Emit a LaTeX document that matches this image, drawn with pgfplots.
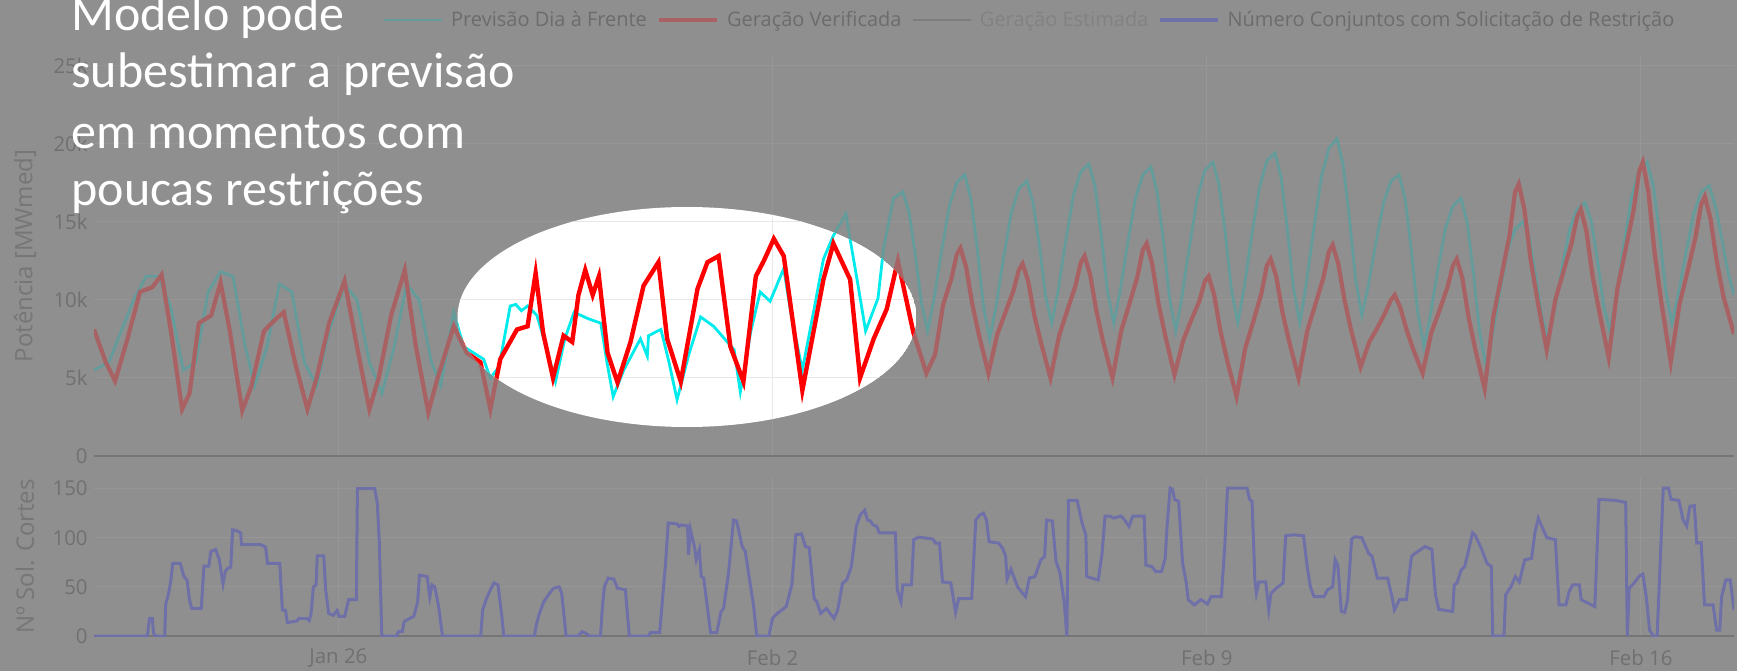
\documentclass[border=0pt]{standalone}
\usepackage{fontspec}
\setmainfont{Open Sans}
\newfontfamily\calib{Carlito}
\usepackage{pgfplots}
\pgfplotsset{compat=1.18}
\usepackage{pgfplotstable}

\definecolor{bg}{RGB}{143,143,143}
\definecolor{dteal}{RGB}{100,156,156}
\definecolor{dred}{RGB}{168,98,100}
\definecolor{dpurp}{RGB}{112,112,168}
\definecolor{tickc}{RGB}{112,112,112}
\definecolor{titc}{RGB}{118,118,118}
\definecolor{gridd}{RGB}{150,150,150}
\definecolor{zerod}{RGB}{118,118,118}
\definecolor{bcyan}{RGB}{0,235,235}
\definecolor{bred}{RGB}{255,0,0}
\definecolor{gridb}{RGB}{232,232,232}
\definecolor{legc}{RGB}{108,108,108}
\definecolor{legc2}{RGB}{130,130,130}
\definecolor{estc}{RGB}{125,125,125}

\pgfplotstableread{
d v
-3.94 5.5
-3.7 6.0
-3.5 8.0
-3.3 10.0
-3.1 11.5
-2.9 11.5
-2.7 9.5
-2.5 5.5
-2.3 6.0
-2.1 10.5
-1.9 11.8
-1.7 11.5
-1.5 7.0
-1.35 4.5
-1.15 7.0
-0.95 11.0
-0.75 10.5
-0.55 6.0
-0.35 4.5
-0.15 8.0
0.1 11.0
0.3 10.0
0.5 6.0
0.7 4.0
0.9 7.0
1.1 11.0
1.3 10.0
1.5 6.0
1.65 4.5
1.86 9.2
2.02 7.0
2.18 6.6
2.34 6.2
2.45 5.0
2.59 5.7
2.77 9.6
2.86 9.7
2.95 9.3
3.05 9.6
3.2 9.0
3.35 7.0
3.5 4.76
3.65 7.5
3.8 9.2
4.02 8.8
4.23 8.5
4.33 6.0
4.43 3.8
4.6 5.5
4.87 7.5
4.98 6.4
5.0 7.7
5.2 8.1
5.33 6.0
5.46 3.6
5.65 6.5
5.84 8.9
6.05 8.3
6.38 6.8
6.48 4.1
6.65 8.0
6.8 10.5
6.96 9.9
7.18 12.0
7.3 9.0
7.48 5.5
7.65 9.0
7.82 12.6
7.98 14.1
8.18 15.5
8.37 11.1
8.5 8.0
8.7 10.1
8.79 13.3
8.95 16.5
9.1 16.9
9.2 15.6
9.3 12.9
9.4 9.8
9.5 8.0
9.6 10.0
9.72 13.0
9.85 16.0
9.97 17.5
10.1 18.0
10.2 16.4
10.3 13.3
10.4 9.6
10.5 7.5
10.6 9.5
10.72 12.6
10.85 15.6
10.97 17.1
11.1 17.6
11.2 16.2
11.3 13.5
11.4 10.3
11.5 8.5
11.6 10.5
11.72 13.6
11.85 16.7
11.97 18.2
12.1 18.7
12.2 17.2
12.3 14.1
12.4 10.5
12.5 8.5
12.6 10.5
12.72 13.5
12.85 16.5
12.97 18.0
13.1 18.5
13.2 16.9
13.3 13.8
13.4 10.1
13.5 8.0
13.6 10.2
13.72 13.4
13.85 16.6
13.97 18.3
14.1 18.8
14.2 17.3
14.3 14.2
14.4 10.6
14.5 8.5
14.6 10.7
14.72 14.0
14.85 17.2
14.97 18.9
15.1 19.4
15.2 17.8
15.3 14.5
15.4 10.7
15.5 8.5
15.6 10.9
15.72 14.4
15.85 17.9
15.97 19.7
16.1 20.3
16.2 18.6
16.3 15.2
16.4 11.3
16.5 9.0
16.6 10.8
16.72 13.5
16.85 16.2
16.97 17.6
17.1 18.0
17.2 16.4
17.3 13.1
17.4 9.2
17.5 7.0
17.6 8.9
17.72 11.8
17.85 14.6
17.97 16.0
18.1 16.5
18.2 14.9
18.3 11.7
18.4 7.9
18.5 5.8
18.6 7.6
18.72 10.4
18.85 13.2
18.97 14.5
19.1 15.0
19.2 13.9
19.3 11.6
19.4 9.0
19.5 7.5
19.6 9.2
19.72 11.9
19.85 14.5
19.97 15.8
20.1 16.2
20.2 15.0
20.3 12.5
20.4 9.6
20.5 8.0
20.6 10.2
20.72 13.4
20.85 16.6
20.97 18.3
21.1 18.8
21.2 17.3
21.3 14.2
21.4 10.6
21.5 8.5
21.6 10.3
21.72 12.9
21.85 15.5
21.97 16.9
22.1 17.3
22.2 16.0
22.3 14.0
22.4 11.8
22.5 10.3
}\prev

\pgfplotstableread{
d v
-3.94 8.1
-3.75 6.0
-3.6 4.8
-3.4 7.5
-3.2 10.5
-3.0 10.8
-2.85 11.6
-2.7 8.0
-2.52 3.0
-2.4 4.0
-2.25 8.5
-2.05 9.0
-1.9 11.1
-1.75 8.0
-1.55 2.9
-1.4 4.5
-1.2 8.0
-1.0 8.8
-0.88 9.2
-0.7 6.0
-0.5 3.0
-0.35 5.0
-0.15 8.5
0.1 11.2
0.3 7.0
0.5 3.0
0.65 5.0
0.85 9.0
1.07 11.9
1.25 7.0
1.45 2.8
1.6 5.0
1.86 8.3
2.07 6.6
2.29 6.0
2.45 3.0
2.61 6.2
2.88 8.1
3.05 8.3
3.18 11.7
3.3 7.9
3.46 5.0
3.63 7.7
3.77 7.3
3.87 10.3
3.98 11.9
4.1 10.3
4.2 11.5
4.34 6.6
4.5 4.7
4.71 7.3
4.92 10.9
5.16 12.4
5.3 7.5
5.52 4.76
5.79 10.7
5.95 12.4
6.13 12.8
6.32 7.0
6.53 4.76
6.73 11.5
6.86 12.5
7.02 13.9
7.18 12.8
7.48 4.2
7.82 11.3
7.98 13.6
8.25 11.3
8.41 5.0
8.63 7.5
8.84 9.4
9.02 12.5
9.27 7.9
9.48 5.3
9.62 6.5
9.75 9.7
9.88 11.3
9.97 12.9
10.03 13.3
10.12 12.1
10.22 9.7
10.33 7.7
10.48 5.3
10.62 7.75
10.75 9.15
10.88 10.55
10.97 11.9
11.03 12.3
11.12 11.2
11.22 9.0
11.33 7.2
11.48 5.0
11.62 7.7
11.75 9.3
11.88 10.85
11.97 12.4
12.03 12.8
12.12 11.6
12.22 9.3
12.33 7.3
12.48 5.0
12.62 8.0
12.75 9.7
12.88 11.45
12.97 13.2
13.03 13.6
13.12 12.3
13.22 9.8
13.33 7.7
13.48 5.2
13.62 7.4
13.75 8.7
13.88 9.9
13.97 11.2
14.03 11.5
14.12 10.3
14.22 8.0
14.33 6.1
14.48 3.8
14.62 6.9
14.75 8.6
14.88 10.4
14.97 12.2
15.03 12.6
15.12 11.5
15.22 9.2
15.33 7.3
15.48 5.0
15.62 8.0
15.75 9.7
15.88 11.4
15.97 13.1
16.03 13.5
16.12 12.3
16.22 10.0
16.33 8.0
16.48 5.7
16.62 7.3
16.75 8.2
16.88 9.2
16.97 10.0
17.03 10.3
17.12 9.5
17.22 8.1
17.33 6.8
17.48 5.3
17.62 7.9
17.75 9.3
17.88 10.8
17.97 12.2
18.03 12.6
18.12 11.4
18.22 8.9
18.33 6.8
18.48 4.3
18.62 8.9
18.75 11.5
18.88 14.1
18.97 16.9
19.03 17.4
19.12 15.8
19.22 12.6
19.33 10.0
19.48 6.8
19.62 10.0
19.75 11.8
19.88 13.6
19.97 15.3
20.03 15.8
20.12 14.4
20.22 11.5
20.33 9.2
20.48 6.3
20.62 10.7
20.75 13.2
20.88 15.7
20.97 18.2
21.03 18.8
21.12 16.9
21.22 13.0
21.33 9.8
21.48 6.0
21.62 9.7
21.75 11.8
21.88 14.0
21.97 16.1
22.03 16.6
22.12 15.2
22.22 12.5
22.33 10.2
22.5 7.8
}\ger

\pgfplotstableread{
d v
-3.94 0
-3.08 0
-3.045 18
-3.0 18
-2.98 3
-2.95 0
-2.8 0
-2.785 32
-2.736 43.5
-2.705 55
-2.67 74
-2.55 74
-2.49 60.5
-2.44 57
-2.4 37
-2.365 28
-2.21 28
-2.168 71
-2.088 71
-2.057 86
-1.977 88
-1.92 77.5
-1.86 53
-1.822 66
-1.78 69
-1.736 70
-1.705 108
-1.637 107
-1.575 105
-1.563 93
-1.254 93
-1.174 90.5
-1.143 74
-0.945 74
-0.903 26.5
-0.853 26
-0.822 13.6
-0.668 15.3
-0.637 18
-0.514 18
-0.47 15.6
-0.44 23
-0.403 50
-0.36 52
-0.34 81.6
-0.236 81.6
-0.205 47
-0.156 23
-0.082 21
-0.02 26
0.01 20
0.103 20
0.165 37
0.29 37
0.307 150
0.585 150
0.628 135
0.659 96
0.7 0
0.937 0
0.968 4.4
1.03 4.4
1.06 14.6
1.153 18
1.215 20
1.277 34
1.307 62
1.43 60.5
1.474 40
1.51 52
1.554 50
1.616 30
1.678 0
2.295 0
2.326 26.5
2.388 38
2.45 47
2.51 54
2.573 52
2.635 20
2.666 0
3.16 0
3.19 11
3.24 23
3.313 35
3.387 42
3.468 48.6
3.56 50
3.6 43.5
3.634 23
3.671 0
3.869 0
3.93 4.4
3.99 2.7
4.05 0
4.226 0
4.257 30
4.288 50
4.35 59
4.44 58
4.5 48.6
4.627 47
4.69 0
5.0 0
5.03 3.4
5.18 3.4
5.275 74
5.318 115
5.46 114
5.49 111.5
5.52 113
5.63 112
5.645 82.6
5.676 108
5.74 91
5.77 77.5
5.82 87.7
5.85 60.5
5.89 59
6.0 3.4
6.1 3.4
6.17 25
6.21 28
6.29 64
6.37 118
6.42 117
6.51 91
6.56 86
6.695 30
6.745 0
6.94 0
7.0 18
7.078 23
7.22 30
7.31 52
7.375 103
7.466 104
7.53 91
7.59 90
7.67 38
7.713 35
7.775 23
7.867 28
7.99 18
8.05 26.5
8.127 53.7
8.195 57
8.27 70.7
8.35 111.5
8.41 123
8.485 128
8.53 118
8.578 117
8.62 113
8.68 111.5
8.72 105
8.98 105
9.01 47
9.07 35
9.1 52
9.24 52
9.275 98
9.36 100.6
9.585 98.6
9.627 94.5
9.69 94.5
9.74 55
9.874 54
9.95 24
10.0 38
10.21 38
10.276 118
10.337 123
10.4 125
10.448 118
10.49 96
10.646 94.5
10.71 89
10.757 81.6
10.78 58
10.843 68
10.95 50
11.078 40
11.14 59
11.23 60.5
11.325 77.5
11.386 81
11.417 118
11.51 117
11.57 76
11.633 64
11.7 35
11.745 0
11.77 138
11.91 138
11.99 115
12.05 103
12.065 60.5
12.25 57
12.312 84
12.36 122
12.435 122
12.5 120
12.62 122
12.68 117.6
12.745 111.5
12.806 122
12.99 122
13.02 72
13.115 70.7
13.176 65.6
13.27 65.6
13.33 79
13.36 112
13.41 150.6
13.45 149
13.48 139
13.547 137
13.61 74
13.67 54
13.7 37
13.8 31.6
13.905 37
14.01 32.6
14.07 40
14.235 40
14.29 91
14.334 150.6
14.65 150.6
14.69 139
14.73 137
14.776 57
14.8 43.5
14.84 55
14.95 55
15.0 27
15.036 43.5
15.12 48.6
15.23 54
15.273 102
15.4 103
15.56 102
15.616 72
15.67 50
15.73 40
15.89 40
15.947 47
16.03 50
16.07 77.5
16.113 72
16.17 25
16.225 24
16.27 37
16.335 98.6
16.39 101
16.5 100
16.61 84
16.665 81
16.75 59
16.915 59
16.986 40
17.025 26.5
17.107 37
17.217 37
17.3 81
17.356 84
17.52 91
17.63 88
17.687 42
17.74 27
17.964 25
17.99 52
18.035 54
18.1 67
18.157 70.7
18.21 84
18.285 105
18.323 103
18.434 88
18.517 74
18.588 70.7
18.61 0
18.79 0
18.82 42
18.903 50
18.975 60.5
19.04 55
19.125 77.5
19.236 79
19.29 105
19.345 120
19.4 111.5
19.483 100
19.62 98
19.68 31.6
19.79 31.6
19.84 45
19.9 52
20.008 52
20.036 37
20.256 30
20.284 74
20.323 139
20.588 138
20.754 136
20.78 0
20.81 48.6
20.89 54
20.975 61
21.03 63
21.085 40
21.14 6
21.196 0
21.26 0
21.36 150.6
21.445 150.6
21.484 139
21.61 138
21.68 118
21.737 112
21.79 132
21.86 132.6
21.9 94.5
21.97 95
22.025 31.6
22.163 31.6
22.22 6
22.27 6
22.3 40
22.367 57
22.44 57
22.5 26.5
}\sol

\pgfplotsset{
  common/.style={
    scale only axis, width=820pt,
    xmin=-3.94, xmax=22.5,
    axis line style={draw=none}, tick style={draw=none},
    xtick={0,7,14,21},
    grid=major,
    ticklabel style={font=\fontsize{10.2}{12}\selectfont, text=tickc},
    yticklabel style={anchor=east, inner sep=0pt, xshift=-3pt},
    xticklabel style={anchor=center, inner sep=0pt, yshift=-11pt},
    every axis y label/.style={at={(axis description cs:-0.0421,0.5)}, rotate=90, anchor=center, font=\fontsize{12}{14}\selectfont, text=titc},
  },
  topax/.style={
    common, height=200pt, ymin=0, ymax=25.6,
    ytick={0,5,10,15,20,25},
  },
}

\begin{document}
\begin{tikzpicture}
\useasboundingbox (0pt,0pt) rectangle (868.5pt,335.5pt);
\fill[bg] (0pt,0pt) rectangle (868.5pt,335.5pt);

% top panel (dimmed)
\begin{axis}[topax, at={(47pt,107.5pt)}, anchor=south west,
  major grid style={gridd, line width=0.5pt},
  yticklabels={0,5k,10k,15k,20k,25k}, xticklabels={},
  ylabel={Potência [MWmed]},
  legend columns=4,
  legend image code/.code={\draw[#1] (0pt,0pt) -- (29pt,0pt);},
  legend style={at={(axis description cs:0.1756,1.09)}, anchor=west,
    draw=none, fill=none, inner sep=0pt, font=\fontsize{10}{12}\selectfont,
    nodes={inner sep=0pt},
    /tikz/every odd column/.append style={column sep=4pt},
    /tikz/every even column/.append style={column sep=5pt}},
]
\addplot[forget plot, zerod, line width=1pt] coordinates {(-3.94,0) (22.5,0)};
\addplot[dteal, line width=1.4pt] table[x=d,y=v] {\prev};
\addlegendentry{\textcolor{legc}{Previsão Dia à Frente}}
\addplot[dred, line width=2.1pt] table[x=d,y=v] {\ger};
\addlegendentry{\textcolor{legc}{Geração Verificada}}
\addlegendimage{estc, line width=1.2pt}
\addlegendentry{\textcolor{legc2}{Geração Estimada}}
\addlegendimage{dpurp, line width=1.6pt}
\addlegendentry{\textcolor{legc}{Número Conjuntos com Solicitação de Restrição}}
\end{axis}

% bottom panel
\begin{axis}[common, at={(47pt,17.5pt)}, anchor=south west,
  height=79.6pt, ymin=0, ymax=162,
  major grid style={gridd, line width=0.5pt},
  ytick={0,50,100,150}, yticklabels={0,50,100,150},
  xticklabels={Jan 26,Feb 2,Feb 9,Feb 16},
  ylabel={Nº Sol. Cortes},
]
\addplot[forget plot, zerod, line width=1pt] coordinates {(-3.94,0) (22.5,0)};
\addplot[dpurp, line width=1.5pt] table[x=d,y=v] {\sol};
\end{axis}

% highlighted ellipse
\begin{scope}
\clip (343.5pt,177pt) ellipse [x radius=114.75pt, y radius=55pt];
\fill[white] (343.5pt,177pt) ellipse [x radius=114.75pt, y radius=55pt];
\begin{axis}[topax, at={(47pt,107.5pt)}, anchor=south west,
  major grid style={gridb, line width=0.6pt},
  xticklabels={}, yticklabels={}]
\addplot[bcyan, line width=1.4pt] table[x=d,y=v] {\prev};
\addplot[bred, line width=2.2pt] table[x=d,y=v] {\ger};
\end{axis}
\end{scope}

% annotation
\begin{scope}[every node/.style={anchor=base west, inner sep=0pt, text=white, font=\calib\fontsize{25}{30}\selectfont}]
\node at (35.5pt,320pt) {Modelo pode};
\node at (35.5pt,291.5pt) {subestimar a previsão};
\node at (35.5pt,261.5pt) {em momentos com};
\node at (35.5pt,233pt) {poucas restrições};
\end{scope}
\end{tikzpicture}
\end{document}
